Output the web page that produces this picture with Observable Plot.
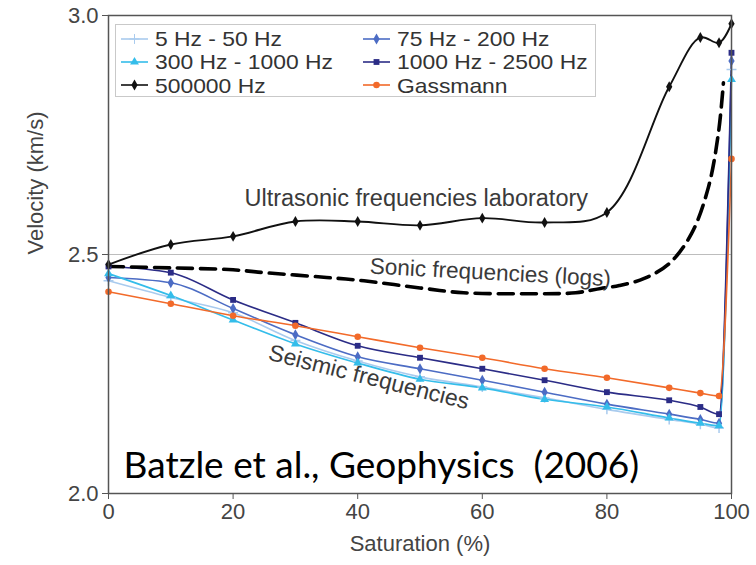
<!DOCTYPE html>
<html>
<head>
<meta charset="utf-8">
<script src="https://cdn.jsdelivr.net/npm/d3@7"></script>
<script src="https://cdn.jsdelivr.net/npm/@observablehq/plot@0.6"></script>
<style>
  body { margin: 0; background: #fff; }
  #chart { position: relative; width: 756px; height: 565px; }
  #legend {
    position: absolute; left: 115px; top: 24px; width: 481px; height: 73px;
    box-sizing: border-box; border: 1px solid #c9c9c9; background: #fff;
    font: 20.6px "Liberation Sans", Arial, sans-serif; line-height: 21px; color: #333;
  }
  .item { position: absolute; display: flex; align-items: center; height: 21px; white-space: nowrap; }
  .item span { display: inline-block; transform: scaleX(1.11); transform-origin: 0 50%; }
  .item svg { margin-right: 7px; }
</style>
</head>
<body>
<div id="chart"><div id="legend"></div></div>
<script>
// Water saturation (%) at each measurement
const saturation = [0, 10, 20, 30, 40, 50, 60, 70, 80, 90, 95, 98, 100];

// P-wave velocity (km/s) per frequency band
const v5to50     = [2.445, 2.410, 2.378, 2.320, 2.277, 2.244, 2.223, 2.200, 2.176, 2.155, 2.145, 2.137, 2.887];
const v75to200   = [2.452, 2.441, 2.387, 2.332, 2.286, 2.261, 2.237, 2.212, 2.187, 2.166, 2.155, 2.147, 2.905];
const v300to1000 = [2.460, 2.414, 2.363, 2.313, 2.273, 2.239, 2.221, 2.197, 2.181, 2.158, 2.147, 2.142, 2.866];
const v1000to2500= [2.475, 2.462, 2.405, 2.357, 2.309, 2.284, 2.261, 2.237, 2.212, 2.195, 2.181, 2.166, 2.922];
const v500000    = [2.479, 2.521, 2.538, 2.569, 2.569, 2.561, 2.576, 2.567, 2.588, 2.851, 2.954, 2.943, 2.983];
const gassmann   = [2.422, 2.397, 2.372, 2.351, 2.328, 2.305, 2.284, 2.261, 2.242, 2.221, 2.210, 2.204, 2.700];

// Sonic log trend (dashed curve)
const sonicSaturation = [0, 10, 20, 25, 35, 41, 50, 57, 68, 75, 79, 82, 86, 90, 93.6, 96.3, 97.9, 98.7];
const sonicVelocity   = [2.475, 2.472, 2.468, 2.462, 2.452, 2.445, 2.430, 2.420, 2.418, 2.420, 2.429, 2.435, 2.450, 2.481, 2.544, 2.641, 2.754, 2.859];

const seriesNames = ["5 Hz - 50 Hz", "75 Hz - 200 Hz", "300 Hz - 1000 Hz", "1000 Hz - 2500 Hz", "500000 Hz", "Gassmann"];
const seriesValues = [v5to50, v75to200, v300to1000, v1000to2500, v500000, gassmann];
const seriesColors = ["#a9cbee", "#4c6cc4", "#34bdea", "#2b2c86", "#111111", "#f26a2a"];
const seriesSymbols = ["plus", "diamond", "triangle", "square", "diamond", "circle"];

const yTicks = [2.0, 2.5, 3.0];
const xTicks = [0, 20, 40, 60, 80, 100];

const annotations = [
  {text: "Ultrasonic frequencies laboratory", x: 49.4, y: 2.617, size: 23.5, rotate: 0, color: "#3a3a3a", font: "Liberation Sans"},
  {text: "Sonic frequencies (logs)", x: 61.3, y: 2.462, size: 22.5, rotate: 3, color: "#3a3a3a", font: "Liberation Sans"},
  {text: "Seismic frequencies", x: 41.8, y: 2.243, size: 23, rotate: 14, color: "#3a3a3a", font: "Liberation Sans"},
  {text: "Batzle et al., Geophysics  (2006)", x: 43.8, y: 2.058, size: 37, rotate: 0, color: "#000", font: "Lato"}
];

const rows = seriesNames.flatMap((name, i) =>
  saturation.map((s, j) => ({series: name, sat: s, v: seriesValues[i][j], i}))
);
const sonic = sonicSaturation.map((s, j) => ({sat: s, v: sonicVelocity[j]}));

const marks = [
  Plot.ruleY([2.5], {stroke: "#bdbdbd", strokeWidth: 1.2}),
];
// seismic/Gassmann lines, then ultrasonic on top
seriesNames.forEach((name, i) => {
  const d = rows.filter(r => r.i === i);
  marks.push(Plot.line(d, {
    x: "sat", y: "v", stroke: seriesColors[i],
    strokeWidth: i === 4 ? 1.9 : 1.6,
    curve: i === 4 ? "catmull-rom" : "monotone-x"
  }));
});
marks.push(Plot.line(sonic, {x: "sat", y: "v", stroke: "#000", strokeWidth: 3.6, strokeDasharray: "15,8", curve: "catmull-rom"}));
seriesNames.forEach((name, i) => {
  const d = rows.filter(r => r.i === i);
  const strokeOnly = seriesSymbols[i] === "plus";
  marks.push(Plot.dot(d, {
    x: "sat", y: "v", symbol: () => seriesSymbols[i], r: 3.3,
    fill: strokeOnly ? "none" : seriesColors[i],
    stroke: strokeOnly ? seriesColors[i] : "none",
    strokeWidth: 1.5
  }));
});
annotations.forEach(a => {
  marks.push(Plot.text([a], {
    x: "x", y: "y", text: "text", rotate: a.rotate, fontSize: a.size,
    fill: a.color, fontFamily: a.font, textAnchor: "middle"
  }));
});
marks.push(Plot.frame({stroke: "#555", strokeWidth: 1.5}));
marks.push(Plot.axisX({ticks: xTicks, tickSize: 6, tickPadding: 4, label: null, fontSize: 22, stroke: "#555"}));
marks.push(Plot.axisY({ticks: yTicks, tickSize: 6, tickPadding: 4, tickFormat: d3.format(".1f"), label: null, fontSize: 22, stroke: "#555"}));
marks.push(Plot.text(["Saturation (%)"], {frameAnchor: "bottom", dy: 57, fontSize: 22, fill: "#444"}));
marks.push(Plot.text(["Velocity (km/s)"], {frameAnchor: "left", dx: -73, rotate: -90, fontSize: 22, fill: "#444"}));

const chart = Plot.plot({
  width: 756, height: 565,
  marginLeft: 108, marginRight: 25, marginTop: 15, marginBottom: 72,
  x: {domain: [0, 100]},
  y: {domain: [2.0, 3.0]},
  style: {fontFamily: "'Liberation Sans', Arial, sans-serif", color: "#444", background: "#fff", overflow: "visible"},
  marks
});
document.getElementById("chart").prepend(chart);

// Legend: two columns, three rows
const legend = d3.select("#legend");
seriesNames.forEach((name, i) => {
  const col = i % 2, row = Math.floor(i / 2);
  const item = legend.append("div").attr("class", "item")
    .style("left", (col ? 247 : 5) + "px")
    .style("top", (3 + row * 23.3) + "px");
  const sw = item.append("svg").attr("width", 27).attr("height", 14);
  sw.append("line").attr("x1", 0).attr("x2", 27).attr("y1", 7).attr("y2", 7)
    .attr("stroke", seriesColors[i]).attr("stroke-width", 1.6);
  const symType = {plus: d3.symbolPlus, diamond: d3.symbolDiamond, triangle: d3.symbolTriangle, square: d3.symbolSquare, circle: d3.symbolCircle}[seriesSymbols[i]];
  const strokeOnly = seriesSymbols[i] === "plus";
  sw.append("path").attr("transform", "translate(13.5,7)")
    .attr("d", d3.symbol(symType, 34)())
    .attr("fill", strokeOnly ? "none" : seriesColors[i])
    .attr("stroke", strokeOnly ? seriesColors[i] : "none");
  item.append("span").text(name);
});
</script>
</body>
</html>
